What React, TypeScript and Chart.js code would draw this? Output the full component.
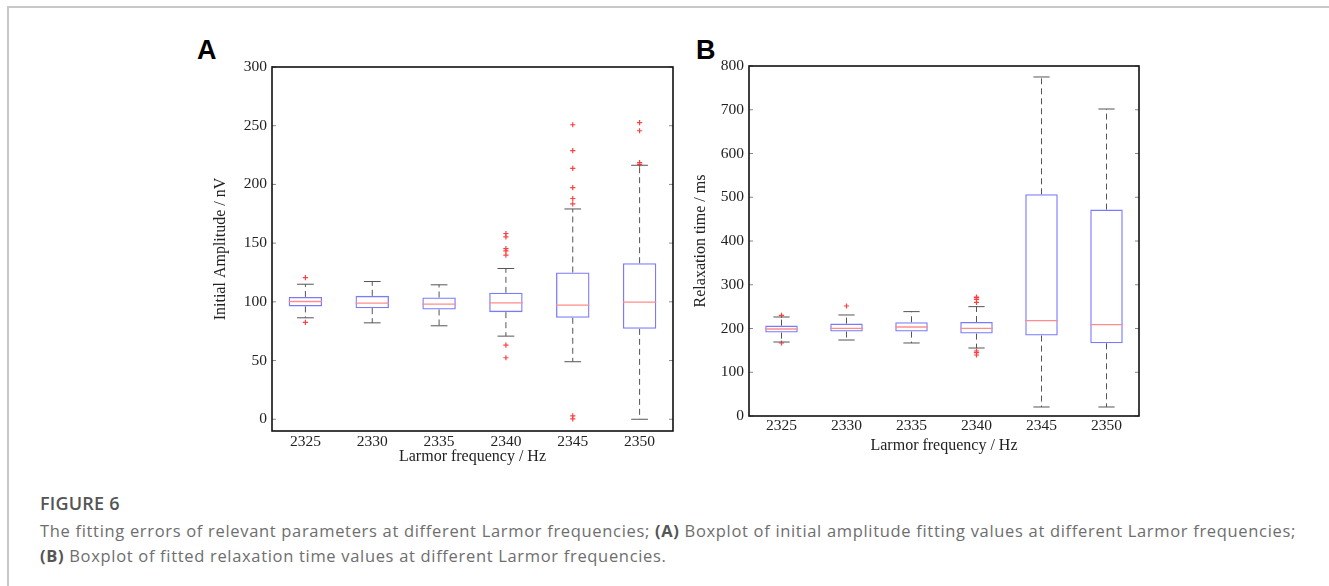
import React, { useEffect, useRef } from "react";
import { Chart, registerables } from "chart.js";

Chart.register(...registerables);

const categories = ["2325", "2330", "2335", "2340", "2345", "2350"];

const ampTicks = [0, 50, 100, 150, 200, 250, 300];
const ampQ1 = [96.1, 94.6, 93.5, 91.2, 86.4, 77.0];
const ampMedian = [100.3, 98.9, 98.0, 99.2, 97.2, 99.7];
const ampQ3 = [104.2, 105.1, 103.7, 107.7, 125.0, 132.9];
const ampWhiskerLow = [86.4, 82.1, 79.6, 70.8, 49.0, 0.0];
const ampWhiskerHigh = [115.0, 117.3, 114.5, 128.4, 179.1, 216.3];
const ampOutliers = [
  [120.7, 82.5],
  [],
  [],
  [158.2, 155.3, 145.4, 143.4, 139.7, 63.2, 52.4],
  [250.8, 228.7, 213.7, 197.3, 188.0, 183.4, 2.8, 0.3],
  [252.6, 245.7, 218.6, 217.1],
];

const relaxTicks = [0, 100, 200, 300, 400, 500, 600, 700, 800];
const relaxQ1 = [190.6, 192.9, 192.9, 188.3, 183.8, 166.2];
const relaxMedian = [198.9, 200.5, 203.4, 200.5, 218.0, 208.9];
const relaxQ3 = [206.6, 211.2, 214.2, 214.9, 506.7, 471.8];
const relaxWhiskerLow = [169.1, 173.7, 166.9, 155.4, 20.6, 20.6];
const relaxWhiskerHigh = [226.3, 230.9, 238.6, 250.0, 774.9, 701.7];
const relaxOutliers = [
  [230.0, 166.9],
  [251.4],
  [],
  [272.0, 270.6, 266.7, 259.9, 148.6, 145.0, 139.4],
  [],
  [],
];

type PanelSpec = {
  q1: number[];
  median: number[];
  q3: number[];
  wLow: number[];
  wHigh: number[];
  outliers: number[][];
  ticks: number[];
  yMin: number;
  yMax: number;
  yTitle: string;
  yAxisWidth: number;
  yTitlePad: number;
  xAxisHeight: number;
  xTitlePad: number;
  xTickPad: number;
  padTop: number;
  padRight: number;
};

const SERIF = "'Liberation Serif', 'Times New Roman', serif";

const boxPlugin = {
  id: "boxParts",
  afterDatasetsDraw(chart: any, _args: any, opts: any) {
    const spec: PanelSpec = opts.spec;
    if (!spec) return;
    const ctx = chart.ctx;
    const y = chart.scales.y;
    const meta = chart.getDatasetMeta(0);
    const area = chart.chartArea;
    ctx.save();
    meta.data.forEach((bar: any, i: number) => {
      const props = bar.getProps(["x", "width"], true);
      const cx = props.x;
      const w = props.width;
      const yq1 = y.getPixelForValue(spec.q1[i]);
      const yq3 = y.getPixelForValue(spec.q3[i]);
      const yLo = y.getPixelForValue(spec.wLow[i]);
      const yHi = y.getPixelForValue(spec.wHigh[i]);
      const yMed = y.getPixelForValue(spec.median[i]);
      ctx.strokeStyle = "#555555";
      ctx.lineWidth = 1;
      ctx.setLineDash([6, 4]);
      ctx.beginPath();
      ctx.moveTo(cx, yq3);
      ctx.lineTo(cx, yHi);
      ctx.moveTo(cx, yq1);
      ctx.lineTo(cx, yLo);
      ctx.stroke();
      ctx.setLineDash([]);
      ctx.beginPath();
      ctx.moveTo(cx - w / 4, yHi);
      ctx.lineTo(cx + w / 4, yHi);
      ctx.moveTo(cx - w / 4, yLo);
      ctx.lineTo(cx + w / 4, yLo);
      ctx.stroke();
      ctx.strokeStyle = "#ff8c8c";
      ctx.lineWidth = 1.3;
      ctx.beginPath();
      ctx.moveTo(cx - w / 2, yMed);
      ctx.lineTo(cx + w / 2, yMed);
      ctx.stroke();
    });
    ctx.strokeStyle = "#888888";
    ctx.lineWidth = 1;
    y.ticks.forEach((t: any) => {
      const py = y.getPixelForValue(t.value);
      ctx.beginPath();
      ctx.moveTo(area.left, py);
      ctx.lineTo(area.left + 4, py);
      ctx.moveTo(area.right, py);
      ctx.lineTo(area.right - 4, py);
      ctx.stroke();
    });
    ctx.strokeStyle = "#111111";
    ctx.lineWidth = 1.6;
    ctx.strokeRect(area.left, area.top, area.right - area.left, area.bottom - area.top);
    ctx.restore();
  },
};

function BoxPanel({ spec, style }: { spec: PanelSpec; style: React.CSSProperties }) {
  const ref = useRef<HTMLCanvasElement | null>(null);
  useEffect(() => {
    if (!ref.current) return;
    const outlierPoints: { x: string; y: number }[] = [];
    spec.outliers.forEach((list, i) => {
      list.forEach((v) => outlierPoints.push({ x: categories[i], y: v }));
    });
    const chart = new Chart(ref.current, {
      type: "bar",
      data: {
        labels: categories,
        datasets: [
          {
            type: "bar",
            data: spec.q1.map((v, i) => [v, spec.q3[i]]),
            backgroundColor: "rgba(0,0,0,0)",
            borderColor: "#7a7aff",
            borderWidth: 1.3,
            borderSkipped: false,
            barPercentage: 0.5,
            categoryPercentage: 1,
            order: 1,
          } as any,
          {
            type: "line",
            data: outlierPoints as any,
            showLine: false,
            pointStyle: "cross",
            pointRadius: 2.6,
            pointBorderColor: "#ff4040",
            pointBorderWidth: 1.2,
            pointBackgroundColor: "#ff4040",
            order: 0,
          } as any,
        ],
      },
      options: {
        animation: false,
        responsive: false,
        maintainAspectRatio: false,
        layout: { padding: { top: spec.padTop, right: spec.padRight, left: 0, bottom: 0 } },
        plugins: {
          legend: { display: false },
          tooltip: { enabled: false },
          boxParts: { spec },
        } as any,
        scales: {
          x: {
            type: "category",
            offset: true,
            grid: { display: false, drawTicks: false, tickLength: 0 },
            border: { display: false },
            ticks: { color: "#222", font: { family: SERIF, size: 15.5 }, padding: spec.xTickPad, maxRotation: 0 },
            title: {
              display: true,
              text: "Larmor frequency / Hz",
              color: "#222",
              font: { family: SERIF, size: 16 },
              padding: { top: 0, bottom: spec.xTitlePad },
            },
            afterFit: (scale: any) => {
              scale.height = spec.xAxisHeight;
            },
          },
          y: {
            type: "linear",
            min: spec.yMin,
            max: spec.yMax,
            grid: { display: false, drawTicks: false, tickLength: 0 },
            border: { display: false },
            ticks: { color: "#222", font: { family: SERIF, size: 15.5 }, padding: 5 },
            afterBuildTicks: (scale: any) => {
              scale.ticks = spec.ticks.map((v) => ({ value: v }));
            },
            title: {
              display: true,
              text: spec.yTitle,
              color: "#222",
              font: { family: SERIF, size: 16 },
              padding: { top: spec.yTitlePad, bottom: 0 },
            },
            afterFit: (scale: any) => {
              scale.width = spec.yAxisWidth;
            },
          },
        },
      } as any,
      plugins: [boxPlugin],
    });
    return () => chart.destroy();
  }, [spec]);
  return (
    <canvas
      ref={ref}
      width={style.width as number}
      height={style.height as number}
      style={{ position: "absolute", ...style }}
    />
  );
}

const specA: PanelSpec = {
  q1: ampQ1,
  median: ampMedian,
  q3: ampQ3,
  wLow: ampWhiskerLow,
  wHigh: ampWhiskerHigh,
  outliers: ampOutliers,
  ticks: ampTicks,
  yMin: -10,
  yMax: 300,
  yTitle: "Initial Amplitude / nV",
  yAxisWidth: 92,
  yTitlePad: 31,
  xAxisHeight: 39,
  xTitlePad: 4,
  xTickPad: 2,
  padTop: 17,
  padRight: 17,
};

const specB: PanelSpec = {
  q1: relaxQ1,
  median: relaxMedian,
  q3: relaxQ3,
  wLow: relaxWhiskerLow,
  wHigh: relaxWhiskerHigh,
  outliers: relaxOutliers,
  ticks: relaxTicks,
  yMin: 0,
  yMax: 800,
  yTitle: "Relaxation time / ms",
  yAxisWidth: 69,
  yTitlePad: 11,
  xAxisHeight: 44,
  xTitlePad: 5,
  xTickPad: 1,
  padTop: 16,
  padRight: 21,
};

export default function App() {
  const letter: React.CSSProperties = {
    position: "absolute",
    fontFamily: "'Liberation Sans', Arial, sans-serif",
    fontWeight: 700,
    fontSize: 27,
    lineHeight: "27px",
    color: "#000",
  };
  const caption: React.CSSProperties = {
    position: "absolute",
    left: 40,
    fontFamily: "'Open Sans', 'Noto Sans', sans-serif",
    color: "#6e6e6e",
    fontSize: 16.5,
    letterSpacing: 0.68,
    lineHeight: "24px",
    whiteSpace: "nowrap",
  };
  const bold: React.CSSProperties = { fontWeight: 700, color: "#555" };
  return (
    <div
      style={{
        position: "absolute",
        left: 0,
        top: 0,
        width: 1329,
        height: 586,
        background: "#fff",
        overflow: "hidden",
      }}
    >
      <div
        style={{
          position: "absolute",
          left: 7,
          top: 6,
          right: -10,
          bottom: -10,
          borderTop: "2px solid #c8c8c8",
          borderLeft: "2px solid #c8c8c8",
        }}
      />
      <div style={{ ...letter, left: 197, top: 37 }}>A</div>
      <div style={{ ...letter, left: 696, top: 37 }}>B</div>
      <BoxPanel spec={specA} style={{ left: 180, top: 50, width: 510, height: 420 }} />
      <BoxPanel spec={specB} style={{ left: 680, top: 50, width: 480, height: 410 }} />
      <div style={{ ...caption, top: 489, fontWeight: 600, color: "#555", fontSize: 18, letterSpacing: 0.2, lineHeight: "28px" }}>FIGURE 6</div>
      <div style={{ ...caption, top: 519 }}>
        The fitting errors of relevant parameters at different Larmor frequencies; <b style={bold}>(A)</b> Boxplot of initial amplitude fitting values at different Larmor frequencies;
      </div>
      <div style={{ ...caption, top: 544 }}>
        <b style={bold}>(B)</b> Boxplot of fitted relaxation time values at different Larmor frequencies.
      </div>
    </div>
  );
}
